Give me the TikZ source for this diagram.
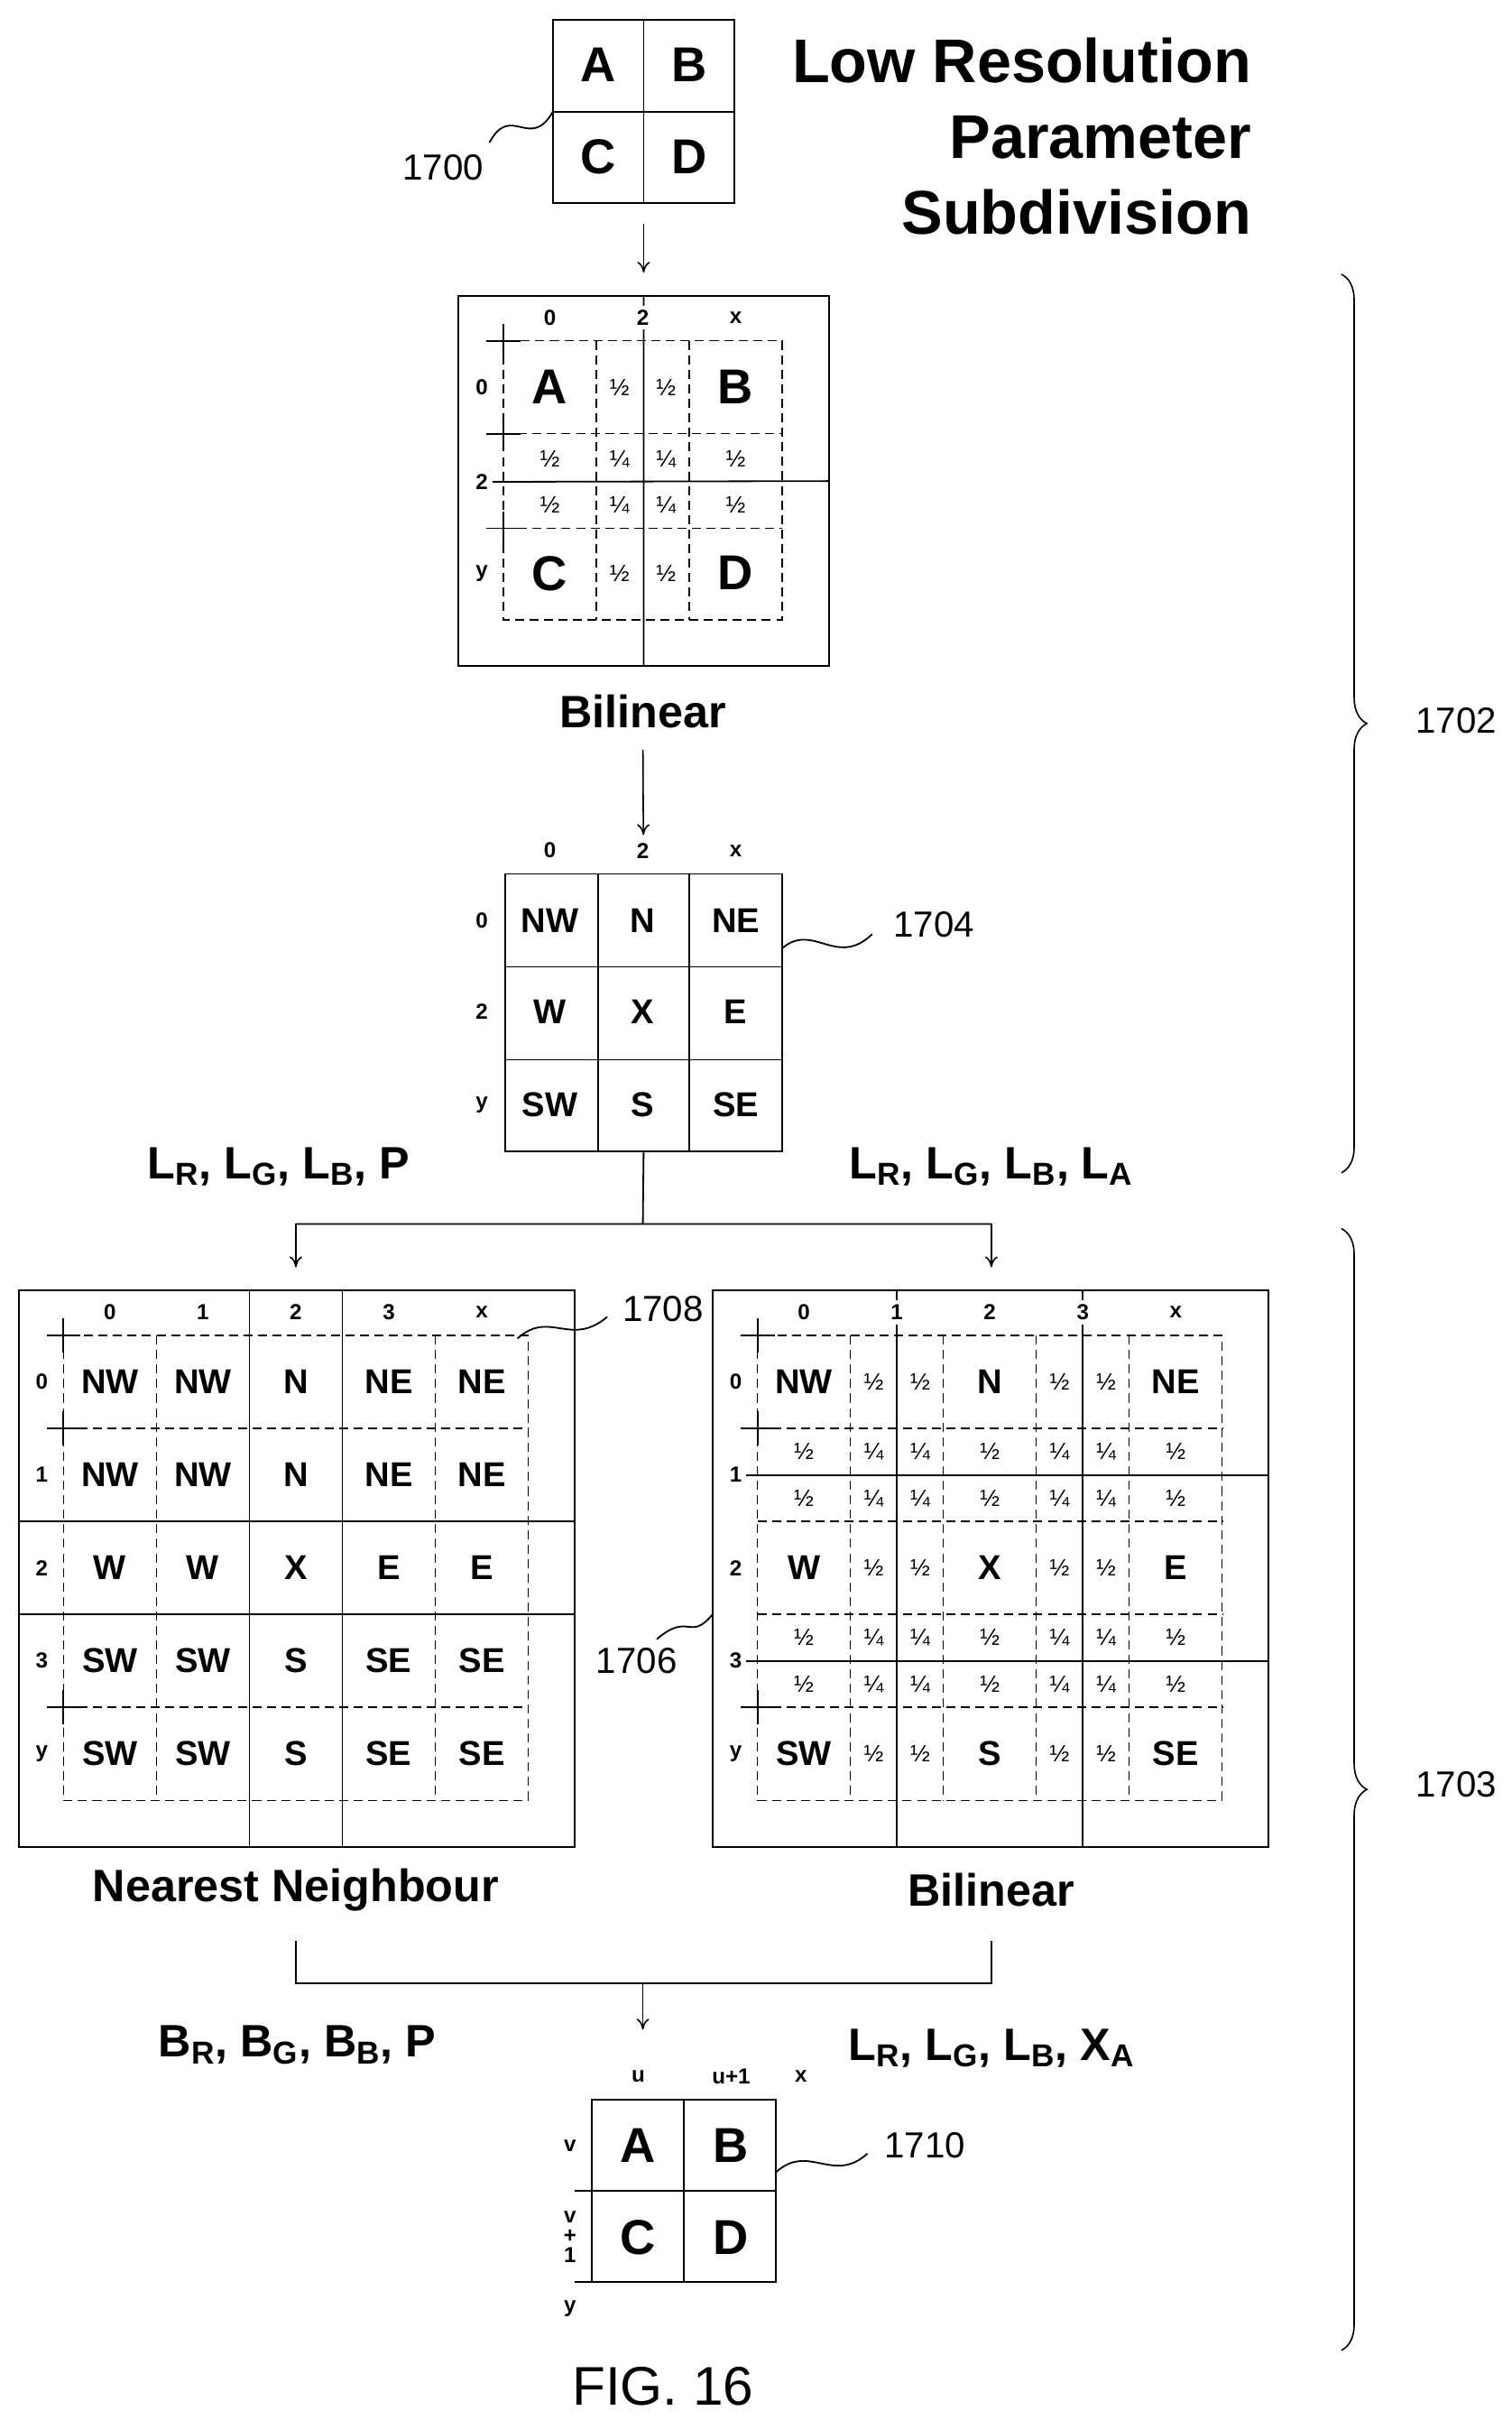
\documentclass[tikz,border=0pt]{standalone}
\usepackage{fontspec}
\setmainfont{Liberation Sans}
\usetikzlibrary{positioning,decorations.pathreplacing,arrows.meta}
\begin{document}
\begin{tikzpicture}[x=0.03cm,y=-0.03cm,
  box/.style={draw,line width=0.9pt,inner sep=0pt,outer sep=0pt},
  dsh/.style={line width=0.7pt,dash pattern=on 5pt off 3pt},
  sld/.style={line width=0.9pt},
  ltr/.style={font=\bfseries\fontsize{27}{29}\selectfont},
  cell/.style={font=\bfseries\fontsize{19}{21}\selectfont},
  ax/.style={font=\bfseries\fontsize{12}{13}\selectfont,fill=white,inner sep=2.5pt},
  frac/.style={font=\fontsize{13}{14}\selectfont},
  capt/.style={font=\bfseries\fontsize{25}{27}\selectfont},
  refl/.style={font=\fontsize{20}{22}\selectfont},
  arr/.style={-{To[length=6pt,width=7pt]},line width=0.8pt},
  brc/.style={decorate,decoration={brace,amplitude=14pt},line width=0.8pt}]
\useasboundingbox (0,0) rectangle (976,1562);
% title
\node[font=\bfseries\fontsize{34}{42}\selectfont,align=right,anchor=north east] (title) at (812,20)
  {Low Resolution\\Parameter\\Subdivision};
% low resolution block
\node[box,minimum width=117*0.03cm,minimum height=118*0.03cm] (lowres) at (415.5,72) {};
\draw[sld] (lowres.north) -- (lowres.south) (lowres.west) -- (lowres.east);
\node[ltr] (la) at (386,42) {A}; \node[ltr] (lb) at (445,42) {B};
\node[ltr] (lc) at (386,101) {C}; \node[ltr] (ld) at (445,101) {D};
\node[refl] (r1700) at (286,108) {1700};
\draw[sld] (316,92) .. controls (330,66) and (342,98) .. (lowres.west);
% first bilinear
\node[box,minimum width=239*0.03cm,minimum height=239*0.03cm] (bil1) at (415.5,310.5) {};
\draw[arr,shorten <=0.4cm,shorten >=0.45cm] (lowres.south) -- (bil1.north);
\draw[sld] (bil1.north) -- (bil1.south) (318,311) -- (bil1.east);
\draw[dsh] (325,220) rectangle (505,400);
\foreach \v in {385,445} \draw[dsh] (\v,220) -- (\v,400);
\foreach \h in {280,341} \draw[dsh] (325,\h) -- (505,\h);
\foreach \h in {220,280,341} \draw[sld] (314,\h) -- (336,\h) (325,\h-11) -- (325,\h+11);
\foreach \t/\xx in {0/355,2/415,x/475} \node[ax] at (\xx,205) {\t};
\foreach \t/\yy in {0/250,2/311,y/370} \node[ax] at (311,\yy) {\t};
\node[ltr] at (355,250) {A}; \node[ltr] at (475,250) {B};
\node[ltr] at (355,370) {C}; \node[ltr] at (475,370) {D};
\foreach \yy in {250,370} \foreach \xx in {400,430} \node[frac] at (\xx,\yy) {½};
\foreach \yy in {296,326} {
  \foreach \xx in {355,475} \node[frac] at (\xx,\yy) {½};
  \foreach \xx in {400,430} \node[frac] at (\xx,\yy) {¼};
}
\node[capt] (cbil1) at (415,459) {Bilinear};
% 3x3 grid
\node[box,minimum width=179*0.03cm,minimum height=179*0.03cm] (g3) at (415.5,653.5) {};
\draw[arr,shorten <=0.3cm,shorten >=0.75cm] (cbil1.south) -- (g3.north);
\foreach \v in {386,445} \draw[sld] (\v,564) -- (\v,743);
\foreach \h in {624,684} \draw[sld] (326,\h) -- (505,\h);
\foreach \t/\xx in {0/355,2/415,x/475} \node[ax] at (\xx,549) {\t};
\foreach \t/\yy in {0/594,2/653,y/713} \node[ax] at (311,\yy) {\t};
\foreach \yy/\row in {594/{NW,N,NE},653/{W,X,E},713/{SW,S,SE}}
  \foreach \lab [count=\i from 0] in \row \node[cell] at (355+60*\i,\yy) {\lab};
\node[refl] (r1704) at (603,597) {1704};
\draw[sld] (505,612) .. controls (525,595) and (540,625) .. (563,603);
% split
\coordinate (split) at (415,790);
\draw[sld] (g3.south) -- (split) (191,790) -- (640,790);
\node[capt] (lbl1) at (180,753) {L\textsubscript{R}, L\textsubscript{G}, L\textsubscript{B}, P};
\node[capt] (lbl2) at (640,753) {L\textsubscript{R}, L\textsubscript{G}, L\textsubscript{B}, L\textsubscript{A}};
% nearest neighbour
\node[box,minimum width=359*0.03cm,minimum height=359*0.03cm] (nn) at (191.5,1012.5) {};
\node[box,minimum width=359*0.03cm,minimum height=359*0.03cm] (bil2) at (639.5,1012.5) {};
\draw[arr] (191,790) -- (191,818);
\draw[arr] (640,790) -- (640,818);
\draw[dsh] (41,862) rectangle (341,1162);
\foreach \v in {101,281} \draw[dsh] (\v,862) -- (\v,1162);
\foreach \h in {922,1102} \draw[dsh] (41,\h) -- (341,\h);
\foreach \v in {161,221} \draw[sld] (\v,833) -- (\v,1192);
\foreach \h in {982,1042} \draw[sld] (12,\h) -- (371,\h);
\foreach \h in {862,922,1102} \draw[sld] (30,\h) -- (52,\h) (41,\h-11) -- (41,\h+11);
\foreach \t [count=\i from 0] in {0,1,2,3,x} \node[ax] at (71+60*\i,847) {\t};
\foreach \t [count=\i from 0] in {0,1,2,3,y} \node[ax] at (27,892+60*\i) {\t};
\foreach \yy/\row in {892/{NW,NW,N,NE,NE},952/{NW,NW,N,NE,NE},1012/{W,W,X,E,E},1072/{SW,SW,S,SE,SE},1132/{SW,SW,S,SE,SE}}
  \foreach \lab [count=\i from 0] in \row \node[cell] at (71+60*\i,\yy) {\lab};
\node[refl] (r1708) at (428,845) {1708};
\draw[sld] (334,864) .. controls (355,845) and (368,870) .. (392,850);
\node[capt] (cnn) at (191,1220) {Nearest Neighbour};
% second bilinear
\draw[dsh] (489,862) rectangle (789,1162);
\foreach \v in {549,609,669,729} \draw[dsh] (\v,862) -- (\v,1162);
\foreach \h in {922,982,1042,1102} \draw[dsh] (489,\h) -- (789,\h);
\foreach \v in {579,699} \draw[sld] (\v,833) -- (\v,1192);
\foreach \h in {952,1072} \draw[sld] (481,\h) -- (819,\h);
\foreach \h in {862,922,1102} \draw[sld] (478,\h) -- (500,\h) (489,\h-11) -- (489,\h+11);
\foreach \t [count=\i from 0] in {0,1,2,3,x} \node[ax] at (519+60*\i,847) {\t};
\foreach \t [count=\i from 0] in {0,1,2,3,y} \node[ax] at (475,892+60*\i) {\t};
\foreach \yy/\a/\b/\c in {892/NW/N/NE,1012/W/X/E,1132/SW/S/SE} {
  \node[cell] at (519,\yy) {\a}; \node[cell] at (639,\yy) {\b}; \node[cell] at (759,\yy) {\c};
  \foreach \xx in {564,594,684,714} \node[frac] at (\xx,\yy) {½};
}
\foreach \yy in {937,967,1057,1087} {
  \foreach \xx in {519,639,759} \node[frac] at (\xx,\yy) {½};
  \foreach \xx in {564,594,684,714} \node[frac] at (\xx,\yy) {¼};
}
\node[refl] (r1706) at (411,1072) {1706};
\draw[sld] (424,1058) .. controls (445,1040) and (445,1060) .. (460,1042);
\node[capt] (cbil2) at (640,1220) {Bilinear};
% merge
\coordinate (merge) at (415,1280);
\draw[sld] (191,1253) -- (191,1280) -- (640,1280) -- (640,1253);
\node[capt] (lbl3) at (192,1320) {B\textsubscript{R}, B\textsubscript{G}, B\textsubscript{B}, P};
\node[capt] (lbl4) at (640,1322) {L\textsubscript{R}, L\textsubscript{G}, L\textsubscript{B}, X\textsubscript{A}};
% output block
\node[box,minimum width=119*0.03cm,minimum height=118*0.03cm] (out) at (441.5,1414) {};
\coordinate (outin) at (415,1310);
\draw[arr] (merge) -- (outin);
\draw[sld] (out.north) -- (out.south) (out.west) -- (out.east);
\draw[sld] (371,1414) -- (382,1414) (371,1473) -- (382,1473);
\node[ltr] at (412,1385) {A}; \node[ltr] at (472,1385) {B};
\node[ltr] at (412,1444) {C}; \node[ltr] at (472,1444) {D};
\node[ax] at (412,1340) {u}; \node[ax] at (472,1340) {u+1}; \node[ax] at (517,1340) {x};
\node[ax] at (368,1385) {v};
\node[ax,align=center] at (368,1444) {v\\[-2pt]+\\[-2pt]1};
\node[ax] at (368,1490) {y};
\node[refl] (r1710) at (597,1385) {1710};
\draw[sld] (501,1402) .. controls (522,1383) and (538,1410) .. (560,1390);
% braces
\draw[brc] (866,177) -- (866,757);
\node[refl] (r1702) at (940,465) {1702};
\draw[brc] (866,793) -- (866,1517);
\node[refl] (r1703) at (940,1152) {1703};
\node[font=\fontsize{30}{32}\selectfont] (fig) at (428,1540) {FIG. 16};
\end{tikzpicture}
\end{document}
